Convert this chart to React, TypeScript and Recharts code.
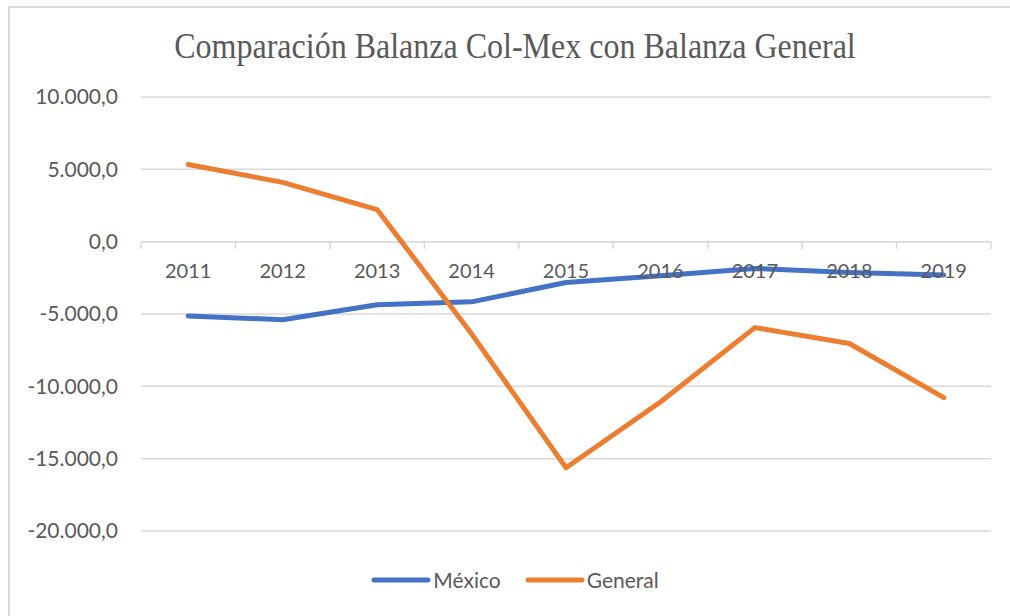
import React from 'react';
import {
  LineChart,
  Line,
  XAxis,
  YAxis,
  CartesianGrid,
  ReferenceDot,
  ReferenceLine,
  Legend,
} from 'recharts';

const years = ['2011', '2012', '2013', '2014', '2015', '2016', '2017', '2018', '2019'];
const mexico = [-5130, -5400, -4360, -4160, -2820, -2350, -1850, -2130, -2300];
const general = [5330, 4100, 2220, -6370, -15630, -11080, -5940, -7040, -10780];
const yTicks = [-20000, -15000, -10000, -5000, 0, 5000, 10000];

const data = years.map((year, i) => ({ year, mexico: mexico[i], general: general[i] }));

const BLUE = '#4472C4';
const ORANGE = '#ED7D31';
const GRID = '#d9d9d9';
const TEXT = '#595959';
const FONT = 'Lato, "Open Sans", sans-serif';

// 10000 -> "10.000,0"
function fmt(v: number) {
  const neg = v < 0;
  const s = Math.abs(Math.round(v)).toString().replace(/\B(?=(\d{3})+(?!\d))/g, '.');
  return (neg ? '-' : '') + s + ',0';
}

function LegendBox() {
  const items = [
    { name: 'México', color: BLUE },
    { name: 'General', color: ORANGE },
  ];
  return (
    <div style={{ display: 'flex', justifyContent: 'center', fontFamily: FONT, fontSize: 21, color: TEXT, paddingLeft: 20 }}>
      {items.map((it) => (
        <div key={it.name} style={{ display: 'flex', alignItems: 'center', margin: '0 12px' }}>
          <svg width={60} height={10}>
            <line x1={3} y1={5} x2={57} y2={5} stroke={it.color} strokeWidth={5} strokeLinecap="round" />
          </svg>
          <span style={{ marginLeft: 2 }}>{it.name}</span>
        </div>
      ))}
    </div>
  );
}

export default function App() {
  return (
    <div style={{ position: 'absolute', left: 0, top: 0, width: 1010, height: 616, overflow: 'hidden', background: '#fff' }}>
      <div
        style={{
          position: 'absolute',
          left: 8,
          top: 6,
          width: 1020,
          height: 630,
          border: `2px solid ${GRID}`,
          boxSizing: 'border-box',
        }}
      />
      <div
        style={{
          position: 'absolute',
          left: 0,
          top: 31,
          width: 1030,
          textAlign: 'center',
          fontFamily: '"Liberation Serif", "Times New Roman", serif',
          fontSize: 32,
          lineHeight: '32px',
          color: TEXT,
          transform: 'scaleY(1.13)',
          transformOrigin: '50% 27px',
        }}
      >
        Comparación Balanza Col-Mex con Balanza General
      </div>
      <div style={{ position: 'absolute', left: 0, top: 0 }}>
        <LineChart width={1010} height={616} data={data} margin={{ top: 97, right: 19, bottom: 60, left: 0 }}>
          <CartesianGrid vertical={false} stroke={GRID} strokeWidth={1.5} />
          <XAxis dataKey="year" scale="band" hide />
          <YAxis
            domain={[-20000, 10000]}
            ticks={yTicks}
            width={141}
            axisLine={false}
            tickLine={false}
            tickSize={0}
            tickMargin={23}
            tickFormatter={fmt}
            tick={{ fill: TEXT, fontSize: 21, fontFamily: FONT }}
          />
          <ReferenceLine y={0} stroke={GRID} strokeWidth={1.5} />
          {years.map((y) => (
            <ReferenceLine
              key={`t-${y}`}
              segment={[{ x: y, y: 0 }, { x: y, y: -500 }]}
              position="start"
              stroke={GRID}
              strokeWidth={1.5}
            />
          ))}
          <ReferenceLine
            segment={[{ x: years[years.length - 1], y: 0 }, { x: years[years.length - 1], y: -500 }]}
            position="end"
            stroke={GRID}
            strokeWidth={1.5}
          />
          {years.map((y) => (
            <ReferenceDot
              key={`l-${y}`}
              x={y}
              y={0}
              r={0}
              fill="none"
              stroke="none"
              label={{ value: y, position: 'bottom', offset: 22, fill: TEXT, fontSize: 20, fontFamily: FONT }}
            />
          ))}
          <Line
            dataKey="mexico"
            name="México"
            stroke={BLUE}
            strokeWidth={5}
            dot={false}
            strokeLinecap="round"
            strokeLinejoin="round"
            isAnimationActive={false}
          />
          <Line
            dataKey="general"
            name="General"
            stroke={ORANGE}
            strokeWidth={5}
            dot={false}
            strokeLinecap="round"
            strokeLinejoin="round"
            isAnimationActive={false}
          />
          <Legend content={<LegendBox />} wrapperStyle={{ top: 567, left: 0, width: 1010 }} />
        </LineChart>
      </div>
    </div>
  );
}
